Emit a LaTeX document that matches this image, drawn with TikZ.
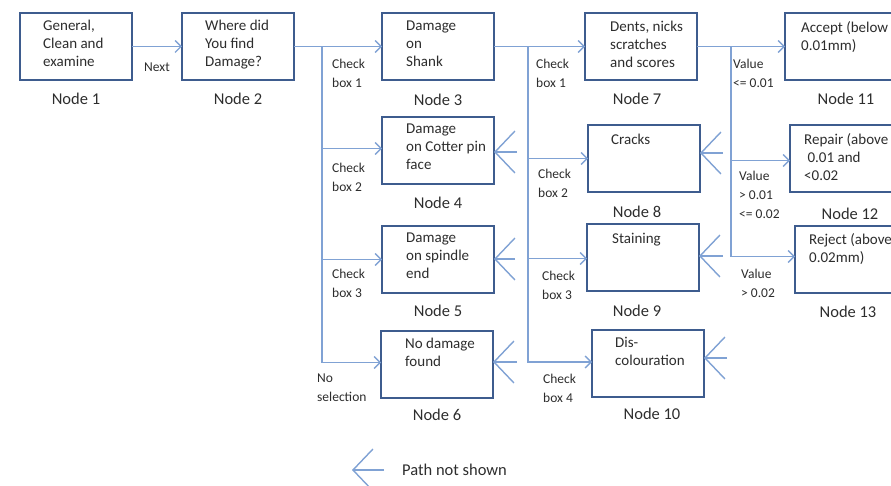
\documentclass[tikz,border=0pt]{standalone}
\usepackage{fontspec}
\setmainfont{Carlito}
\usetikzlibrary{arrows.meta}
\definecolor{boxblue}{RGB}{62,92,142}
\definecolor{lineblue}{RGB}{128,162,212}
\definecolor{txtgray}{RGB}{45,45,45}
\begin{document}
\begin{tikzpicture}[x=1pt,y=-1pt,
  box/.style={draw=boxblue, line width=2.8pt, minimum width=112pt, minimum height=67pt,
    inner sep=0pt, outer sep=0pt, anchor=north west, fill=white},
  widebox/.style={box, minimum width=122pt},
  btxt/.style={anchor=north west, inner sep=0pt, align=left, text=txtgray,
    font=\fontsize{15}{18}\selectfont\strut},
  lbl/.style={anchor=center, inner sep=0pt, text=txtgray, font=\fontsize{16.5}{20}\selectfont},
  small/.style={anchor=north west, inner sep=0pt, align=left, text=txtgray,
    font=\fontsize{13.5}{19}\selectfont\strut},
  conn/.style={draw=lineblue, line width=1.8pt,
    -{Straight Barb[length=6pt,width=12pt,line width=1.3pt]}},
  pns/.style={draw=lineblue, line width=1.6pt,
    -{Straight Barb[length=20pt,width=42pt,line width=1.4pt]}}
]
\useasboundingbox (0,0) rectangle (891,486);
\clip (0,0) rectangle (891,486);

% boxes
\node[box] (n1) at (20,13) {};
\node[box] (n2) at (182,13) {};
\node[box] (n3) at (382,13) {};
\node[box] (n7) at (585,13) {};
\node[widebox] (n11) at (785,13) {};
\node[box] (n4) at (382,117) {};
\node[box] (n8) at (588,125) {};
\node[widebox] (n12) at (790,125) {};
\node[box] (n5) at (382,226) {};
\node[box] (n9) at (587,224) {};
\node[widebox] (n13) at (795,226) {};
\node[box] (n6) at (381,331) {};
\node[box] (n10) at (592,330) {};

% box texts
\node[btxt] (t1) at ([shift={(23,7)}]n1.north west) {General,\\Clean and\\examine};
\node[btxt] (t2) at ([shift={(23,7)}]n2.north west) {Where did\\You find\\Damage?};
\node[btxt] (t3) at ([shift={(24,8)}]n3.north west) {Damage\\on\\Shank};
\node[btxt] (t7) at ([shift={(25,8)}]n7.north west) {Dents, nicks\\scratches\\and scores};
\node[btxt] (t11) at ([shift={(16,8)}]n11.north west) {Accept (below\\0.01mm)};
\node[btxt] (t4) at ([shift={(24,7)}]n4.north west) {Damage\\on Cotter pin\\face};
\node[btxt] (t8) at ([shift={(23,7)}]n8.north west) {Cracks};
\node[btxt] (t12) at ([shift={(14,8)}]n12.north west) {Repair (above\\\ 0.01 and\\<0.02};
\node[btxt] (t5) at ([shift={(24,7)}]n5.north west) {Damage\\on spindle\\end};
\node[btxt] (t9) at ([shift={(25,7)}]n9.north west) {Staining};
\node[btxt] (t13) at ([shift={(14,7)}]n13.north west) {Reject (above\\0.02mm)};
\node[btxt] (t6) at ([shift={(24,7)}]n6.north west) {No damage\\found};
\node[btxt] (t10) at ([shift={(23,7)}]n10.north west) {Dis-\\colouration};

% labels under boxes
\node[lbl] (l1) at ([shift={(0,19)}]n1.south) {Node 1};
\node[lbl] (l2) at ([shift={(0,19)}]n2.south) {Node 2};
\node[lbl] (l3) at ([shift={(0,20)}]n3.south) {Node 3};
\node[lbl] (l7) at ([shift={(-4,19)}]n7.south) {Node 7};
\node[lbl] (l11) at ([shift={(0,19)}]n11.south) {Node 11};
\node[lbl] (l4) at ([shift={(0,19)}]n4.south) {Node 4};
\node[lbl] (l8) at ([shift={(-7,20)}]n8.south) {Node 8};
\node[lbl] (l12) at ([shift={(-1,22)}]n12.south) {Node 12};
\node[lbl] (l5) at ([shift={(0,18)}]n5.south) {Node 5};
\node[lbl] (l9) at ([shift={(-6,20)}]n9.south) {Node 9};
\node[lbl] (l13) at ([shift={(-8,19)}]n13.south) {Node 13};
\node[lbl] (l6) at ([shift={(0,17)}]n6.south) {Node 6};
\node[lbl] (l10) at ([shift={(4,17)}]n10.south) {Node 10};

% junction coordinates
\coordinate (j1) at (322,47);
\coordinate (j2) at (528,47);
\coordinate (j3) at (731,47);

% main connectors
\draw[conn] (n1.east) -- (n2.west);
\draw[conn] (n2.east) -- (n3.west);
\draw[conn] (n3.east) -- (n7.west);
\draw[conn] (n7.east) -- (n11.west);
\draw[conn] (j1) |- ([yshift=2pt]n4.west);
\draw[conn] (j1) |- (n5.west);
\draw[conn] (j1) |- ([yshift=2pt]n6.west);
\draw[conn] (j2) |- (n8.west);
\draw[conn] (j2) |- ([yshift=-1pt]n9.west);
\draw[conn] (j2) |- ([yshift=1.5pt]n10.west);
\draw[conn] (j3) |- ([yshift=-2pt]n12.west);
\draw[conn] (j3) |- ([yshift=3pt]n13.west);

% small labels
\node[small, anchor=center] (lnext) at (157,68) {Next};
\node[small] (c11) at (332,59) {Check\\box 1};
\node[small] (c12) at (332,163) {Check\\box 2};
\node[small] (c13) at (332,269) {Check\\box 3};
\node[small] (c14) at (317,374) {No\\selection};
\node[small] (c21) at (536,59) {Check\\box 1};
\node[small] (c22) at (538,169) {Check\\box 2};
\node[small] (c23) at (542,271) {Check\\box 3};
\node[small] (c24) at (543,374) {Check\\box 4};
\node[small] (v1) at (733,59) {Value\\<= 0.01};
\node[small] (v2) at (739,171) {Value\\> 0.01\\<= 0.02};
\node[small] (v3) at (741,269) {Value\\> 0.02};

% path-not-shown arrows
\coordinate (p4) at (517,152);
\coordinate (p5) at (515,259);
\coordinate (p6) at (517,362);
\coordinate (p8) at (723,153);
\coordinate (p9) at (723,256);
\coordinate (p10) at (727,358);
\draw[pns] (p4) -- (p4 -| n4.east);
\draw[pns] (p5) -- (p5 -| n5.east);
\draw[pns] (p6) -- (p6 -| n6.east);
\draw[pns] (p8) -- (p8 -| n8.east);
\draw[pns] (p9) -- (p9 -| n9.east);
\draw[pns] (p10) -- (p10 -| n10.east);

% legend
\coordinate (lgs) at (384,470);
\coordinate (lgt) at (352,470);
\draw[pns] (lgs) -- (lgt);
\node[lbl, anchor=west] (lgtext) at (402,470) {Path not shown};
\end{tikzpicture}
\end{document}
